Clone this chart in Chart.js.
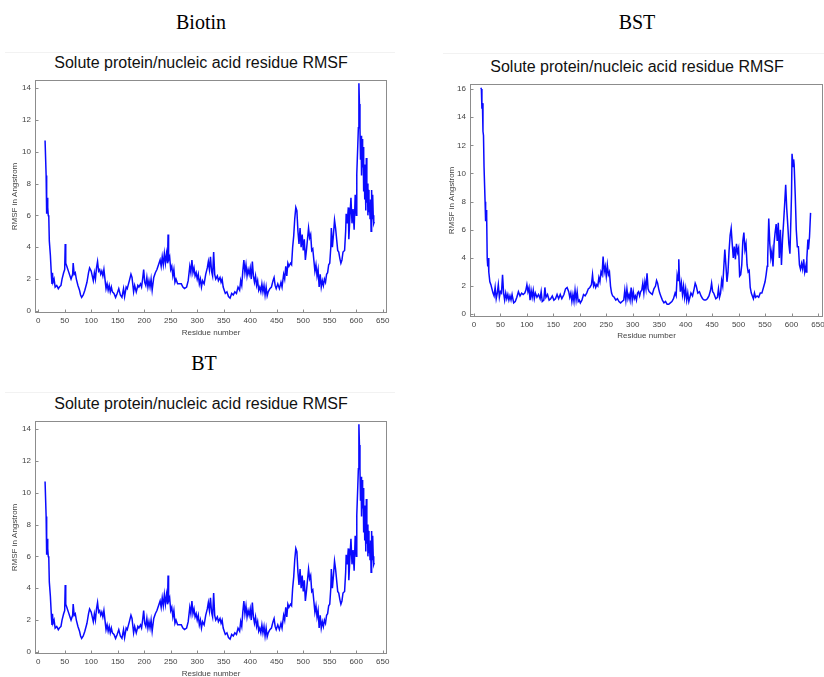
<!DOCTYPE html>
<html>
<head>
<meta charset="utf-8">
<title>Solute protein/nucleic acid residue RMSF</title>
<script src="https://cdn.jsdelivr.net/npm/chart.js@4.4.0/dist/chart.umd.min.js"></script>
<style>
  html, body { margin: 0; padding: 0; background: #fff; overflow: hidden; width: 824px; height: 677px; }
  .panel-name { position: absolute; font-family: "Liberation Serif", "DejaVu Serif", serif; font-size: 20px; color: #000; transform: translate(-50%, -50%); white-space: nowrap; }
  .rule { position: absolute; height: 1px; background: #f2f2f2; }
  .plot-title { position: absolute; font-family: "Liberation Sans", Arial, sans-serif; font-size: 16px; color: #111; transform: translate(-50%, -50%); white-space: nowrap; }
  canvas { position: absolute; }
</style>
</head>
<body>

<div class="panel-name" style="left:201px; top:22px;">Biotin</div>
<div class="rule" style="left:5px; top:52px; width:390px;"></div>
<div class="plot-title" style="left:201px; top:63px;">Solute protein/nucleic acid residue RMSF</div>
<canvas id="biotin-chart" width="400" height="270" style="left:0px; top:70px;"></canvas>

<div class="panel-name" style="left:637px; top:22px;">BST</div>
<div class="rule" style="left:443px; top:53px; width:381px;"></div>
<div class="plot-title" style="left:637px; top:67px;">Solute protein/nucleic acid residue RMSF</div>
<canvas id="bst-chart" width="400" height="269" style="left:440px; top:74px;"></canvas>

<div class="panel-name" style="left:204px; top:363px;">BT</div>
<div class="rule" style="left:5px; top:392px; width:390px;"></div>
<div class="plot-title" style="left:201px; top:404px;">Solute protein/nucleic acid residue RMSF</div>
<canvas id="bt-chart" width="400" height="270" style="left:0px; top:411px;"></canvas>

<script>
// RMSF per residue (Angstrom)
const biotinResidues = [
  13, 15, 16, 17, 18, 19, 20, 21, 23, 25, 26, 27, 28, 30, 32, 35, 38, 40, 43, 45,
  48, 50, 51, 52, 54, 57, 60, 62, 65, 66, 68, 70, 72, 75, 78, 80, 82, 85, 88, 92,
  95, 97, 100, 102, 104, 106, 108, 110, 112, 114, 116, 118, 120, 122, 124, 126, 128, 130, 132, 134,
  136, 138, 140, 143, 146, 149, 152, 155, 158, 161, 163, 166, 168, 172, 175, 177, 180, 182, 185, 188,
  190, 193, 195, 197, 199, 201, 203, 205, 207, 209, 211, 213, 215, 218, 221, 224, 227, 230, 232, 234,
  236, 238, 240, 242, 244, 245, 246, 248, 250, 252, 254, 256, 258, 260, 263, 266, 270, 273, 276, 280,
  283, 286, 288, 290, 292, 294, 296, 298, 300, 302, 304, 306, 308, 310, 313, 316, 319, 321, 323, 325,
  327, 329, 331, 333, 335, 338, 340, 343, 345, 347, 349, 351, 353, 356, 359, 362, 365, 368, 371, 374,
  377, 380, 382, 384, 386, 388, 390, 392, 394, 396, 398, 400, 402, 404, 406, 408, 410, 412, 414, 416,
  418, 420, 422, 424, 426, 428, 430, 432, 434, 437, 440, 443, 445, 447, 449, 452, 455, 458, 460, 463,
  465, 467, 469, 471, 473, 476, 478, 480, 482, 484, 486, 488, 490, 492, 494, 496, 498, 500, 502, 504,
  506, 508, 510, 512, 514, 516, 518, 520, 522, 524, 526, 528, 530, 532, 534, 536, 538, 540, 542, 544,
  546, 548, 550, 552, 553, 555, 557, 559, 561, 563, 565, 567, 569, 571, 573, 575, 578, 580, 581, 583,
  585, 586, 588, 590, 592, 594, 596, 598, 600, 601, 603, 604, 605, 606, 607, 608, 609, 610, 611, 612,
  613, 614, 615, 616, 617, 618, 619, 620, 621, 622, 623, 624, 625, 626, 627, 628, 629, 630, 631, 632,
  633, 634
];
const biotinRmsf = [
  10.7, 8.5, 6.1, 7.1, 6.5, 6.0, 5.9, 4.4, 3.5, 2.2, 1.7, 2.4, 1.8, 2.0, 1.5, 1.6, 1.4, 1.5, 1.6, 2.0,
  2.4, 2.6, 4.2, 3.0, 2.8, 2.5, 2.2, 2.0, 2.3, 3.0, 2.3, 2.4, 2.0, 1.6, 1.3, 1.0, 0.85, 1.0, 1.3, 1.8,
  2.4, 2.7, 2.5, 2.2, 1.9, 2.4, 2.0, 2.7, 3.1, 2.5, 2.6, 2.3, 2.5, 2.2, 2.6, 2.0, 1.4, 1.7, 1.3, 1.6,
  1.2, 1.5, 1.2, 1.1, 0.85, 1.1, 1.4, 1.0, 0.85, 1.4, 0.9, 1.5, 1.4, 1.9, 2.3, 2.1, 1.2, 1.6, 1.2, 1.6,
  1.5, 1.7, 1.5, 2.0, 2.6, 1.8, 1.6, 2.1, 1.5, 1.9, 1.5, 2.0, 1.3, 2.1, 2.4, 2.6, 2.9, 3.2, 2.8, 3.4,
  2.9, 3.6, 3.0, 3.6, 3.0, 4.8, 3.2, 3.4, 2.6, 2.8, 2.2, 2.6, 1.8, 2.0, 1.7, 1.7, 1.7, 1.5, 1.4, 1.5,
  1.9, 2.8, 2.4, 3.2, 2.4, 2.7, 2.2, 2.4, 2.0, 2.3, 1.7, 2.0, 1.5, 1.9, 1.7, 2.3, 2.7, 3.1, 2.6, 3.4,
  2.5, 2.2, 3.7, 2.3, 2.0, 2.2, 1.9, 2.1, 1.8, 2.0, 1.5, 1.3, 1.1, 1.2, 0.9, 0.8, 1.1, 1.0, 1.2, 1.1,
  1.5, 1.3, 1.9, 1.6, 2.5, 3.2, 2.4, 2.9, 2.2, 2.6, 2.3, 2.7, 2.0, 3.1, 2.2, 1.8, 2.2, 1.6, 1.9, 1.3,
  1.5, 1.2, 1.7, 1.2, 1.6, 1.0, 1.5, 0.95, 1.2, 1.4, 1.5, 1.9, 2.1, 1.6, 1.4, 1.7, 1.4, 1.8, 1.5, 2.3,
  2.0, 2.8, 2.2, 3.0, 2.8, 3.0, 2.9, 4.0, 4.7, 5.8, 6.5, 6.3, 5.0, 4.2, 5.2, 4.0, 4.8, 3.8, 4.5, 3.2,
  3.8, 4.5, 5.2, 4.6, 4.8, 3.8, 3.9, 3.2, 2.5, 2.9, 2.2, 2.6, 1.5, 2.3, 1.5, 1.9, 1.6, 2.0, 1.8, 2.3,
  2.4, 2.9, 3.0, 4.0, 5.2, 4.0, 4.8, 5.7, 5.2, 4.5, 3.8, 3.7, 3.3, 3.0, 3.2, 3.7, 3.8, 5.0, 6.1, 5.5,
  6.5, 4.5, 5.9, 7.1, 5.5, 6.4, 5.1, 7.3, 6.0, 8.6, 10.5, 11.5, 14.3, 13.0, 11.5, 9.5, 11.0, 8.5, 10.8, 9.0,
  10.3, 7.5, 9.2, 7.0, 8.5, 6.3, 9.6, 6.8, 8.0, 6.0, 7.6, 6.2, 6.8, 5.8, 7.0, 5.0, 7.6, 5.8, 7.3, 6.0,
  5.5, 5.6
];

const bstResidues = [
  13, 14, 15, 16, 17, 18, 19, 21, 22, 23, 24, 25, 26, 27, 28, 30, 32, 34, 36, 38,
  40, 42, 44, 46, 48, 50, 52, 54, 56, 58, 60, 62, 64, 66, 68, 70, 72, 75, 78, 81,
  84, 87, 90, 93, 96, 98, 100, 102, 104, 106, 108, 110, 112, 114, 116, 119, 122, 125, 127, 129,
  132, 134, 136, 139, 142, 145, 148, 151, 154, 157, 160, 163, 166, 170, 173, 176, 179, 181, 183, 185,
  187, 189, 191, 193, 195, 197, 199, 201, 204, 207, 210, 213, 216, 219, 222, 224, 226, 228, 230, 232,
  234, 236, 238, 240, 242, 244, 246, 248, 250, 252, 254, 256, 258, 260, 262, 265, 268, 271, 274, 277,
  280, 283, 285, 287, 289, 291, 293, 295, 297, 299, 301, 303, 305, 307, 309, 311, 313, 315, 317, 319,
  321, 323, 325, 327, 329, 331, 334, 337, 340, 343, 345, 347, 349, 351, 353, 356, 359, 362, 365, 368,
  371, 374, 377, 380, 382, 384, 386, 387, 388, 390, 392, 394, 396, 398, 400, 402, 404, 406, 408, 410,
  413, 416, 418, 420, 423, 426, 429, 432, 435, 438, 441, 444, 447, 449, 451, 453, 455, 457, 460, 462,
  464, 466, 468, 470, 472, 474, 476, 478, 480, 482, 484, 486, 488, 490, 492, 494, 496, 498, 500, 502,
  504, 506, 508, 510, 512, 514, 516, 518, 520, 522, 524, 526, 528, 530, 532, 535, 538, 541, 544, 547,
  550, 552, 554, 555, 557, 559, 561, 563, 565, 567, 569, 571, 573, 575, 577, 579, 581, 583, 585, 587,
  589, 591, 593, 595, 597, 599, 600, 601, 603, 604, 605, 607, 609, 611, 613, 615, 617, 619, 621, 623,
  625, 627, 628, 629, 631, 632, 634, 636
];
const bstRmsf = [
  16.1, 16.0, 14.6, 15.0, 13.0, 12.7, 10.5, 8.0, 6.6, 7.4, 6.9, 4.0, 3.4, 4.0, 3.0, 2.3, 2.1, 1.8, 1.5, 1.3,
  1.9, 1.1, 1.5, 2.1, 1.2, 1.6, 1.5, 2.8, 1.5, 1.0, 1.5, 1.1, 1.4, 1.0, 1.3, 1.0, 1.4, 0.8, 0.9, 1.2,
  1.6, 1.3, 1.5, 1.4, 1.5, 1.7, 2.1, 1.6, 1.9, 1.0, 1.7, 1.2, 1.7, 1.1, 1.5, 1.2, 1.4, 1.1, 1.6, 0.9,
  1.0, 1.9, 1.2, 1.4, 1.0, 1.1, 1.3, 1.0, 1.1, 1.4, 1.1, 1.4, 1.1, 1.4, 1.8, 1.9, 1.6, 1.2, 1.5, 0.9,
  1.4, 0.9, 1.7, 1.0, 1.6, 0.9, 1.0, 0.8, 1.0, 1.4, 1.3, 1.5, 1.8, 1.9, 2.1, 2.8, 2.0, 2.2, 1.9, 2.1,
  2.0, 2.6, 2.3, 3.0, 2.8, 4.1, 3.0, 3.4, 2.7, 3.5, 2.8, 3.0, 2.0, 1.5, 1.3, 1.2, 1.0, 1.1, 0.9, 0.8,
  0.9, 1.0, 1.7, 1.0, 1.8, 1.1, 1.4, 1.0, 1.9, 1.0, 1.6, 1.1, 1.3, 1.0, 1.5, 1.6, 1.3, 1.6, 1.7, 2.2,
  1.5, 2.3, 1.8, 2.9, 1.8, 1.6, 1.5, 1.4, 1.8, 2.0, 2.4, 2.2, 1.8, 1.5, 1.3, 1.0, 0.8, 0.9, 0.7, 0.7,
  0.8, 0.9, 1.1, 1.5, 1.3, 2.8, 2.4, 3.9, 2.8, 1.6, 2.2, 1.4, 2.0, 1.2, 1.8, 1.0, 1.5, 0.9, 1.2, 1.5,
  1.3, 1.8, 2.2, 2.0, 1.5, 1.6, 1.3, 1.1, 1.0, 1.0, 1.1, 1.3, 1.7, 2.2, 1.6, 1.5, 1.3, 1.1, 1.2, 1.8,
  1.2, 1.5, 2.4, 2.0, 3.3, 4.6, 3.5, 2.3, 3.0, 4.5, 5.6, 6.1, 5.0, 4.0, 4.8, 3.9, 5.0, 4.4, 4.7, 2.7,
  2.8, 3.5, 5.2, 5.8, 4.6, 5.0, 3.5, 3.0, 3.1, 1.9, 1.5, 1.3, 1.1, 1.5, 1.2, 1.3, 1.2, 1.5, 1.5, 1.9,
  2.3, 2.8, 3.4, 4.0, 6.8, 5.0, 4.0, 4.5, 3.4, 5.0, 5.8, 6.4, 5.2, 6.5, 4.0, 6.0, 3.5, 5.3, 6.5, 7.8,
  9.2, 7.5, 6.3, 5.0, 4.3, 7.0, 8.5, 11.4, 10.5, 11.0, 10.6, 8.5, 6.0, 4.8, 4.8, 3.5, 3.2, 3.6, 3.2, 3.9,
  3.0, 3.4, 3.0, 4.0, 5.3, 4.6, 5.5, 7.2
];

// BT run carries the same per-residue values as Biotin
const btResidues = biotinResidues;
const btRmsf = biotinRmsf;

const residueTicks = [0, 50, 100, 150, 200, 250, 300, 350, 400, 450, 500, 550, 600, 650];
const rmsfTicks14 = [0, 2, 4, 6, 8, 10, 12, 14];
const rmsfTicks16 = [0, 2, 4, 6, 8, 10, 12, 14, 16];

const AXIS_FONT = { family: "'Liberation Sans', Arial, sans-serif", size: 8 };

// grey frame around the plot area plus short inward tick marks
const boxFrame = {
  id: 'boxFrame',
  afterDraw(chart) {
    const { ctx, chartArea: a, scales } = chart;
    const l = Math.round(a.left) + 0.5, r = Math.round(a.right) - 0.5;
    const t = Math.round(a.top) + 0.5, b = Math.round(a.bottom) - 0.5;
    ctx.save();
    ctx.strokeStyle = '#8c8c8c';
    ctx.lineWidth = 1;
    ctx.strokeRect(l, t, r - l, b - t);
    ctx.beginPath();
    scales.x.ticks.forEach(tk => {
      const px = Math.round(scales.x.getPixelForValue(tk.value)) + 0.5;
      ctx.moveTo(px, b);
      ctx.lineTo(px, b - 3);
    });
    scales.y.ticks.forEach(tk => {
      const py = Math.round(scales.y.getPixelForValue(tk.value)) + 0.5;
      ctx.moveTo(l, py);
      ctx.lineTo(l + 3, py);
    });
    ctx.stroke();
    ctx.restore();
  }
};

function makeRmsfChart(id, residues, rmsf, opts) {
  const points = residues.map((r, i) => ({ x: r, y: rmsf[i] }));
  return new Chart(document.getElementById(id), {
    type: 'line',
    data: {
      datasets: [{
        data: points,
        borderColor: '#0a0aff',
        borderWidth: 1.5,
        pointRadius: 0,
        tension: 0,
        fill: false
      }]
    },
    options: {
      responsive: false,
      animation: false,
      events: [],
      layout: { padding: opts.padding },
      plugins: { legend: { display: false }, tooltip: { enabled: false }, title: { display: false } },
      scales: {
        x: {
          type: 'linear',
          min: opts.xMin,
          max: opts.xMax,
          afterBuildTicks: s => { s.ticks = residueTicks.map(v => ({ value: v })); },
          afterFit: s => { s.height = opts.xAxisHeight; },
          grid: { display: false, drawTicks: false },
          border: { display: false },
          ticks: { font: AXIS_FONT, color: '#444', padding: 3, maxRotation: 0, autoSkip: false },
          title: { display: true, text: 'Residue number', font: AXIS_FONT, color: '#444', padding: { top: 0, bottom: 2 } }
        },
        y: {
          type: 'linear',
          min: opts.yMin,
          max: opts.yMax,
          afterBuildTicks: s => { s.ticks = opts.yTicks.map(v => ({ value: v })); },
          afterFit: s => { s.width = opts.yAxisWidth; },
          grid: { display: false, drawTicks: false },
          border: { display: false },
          ticks: { font: AXIS_FONT, color: '#444', padding: 4, autoSkip: false },
          title: { display: true, text: 'RMSF in Angstrom', font: AXIS_FONT, color: '#444', padding: { top: opts.yTitlePad, bottom: 0 } }
        }
      }
    },
    plugins: [boxFrame]
  });
}

makeRmsfChart('biotin-chart', biotinResidues, biotinRmsf, {
  xMin: -6, xMax: 658, yMin: -0.13, yMax: 14.5, yTicks: rmsfTicks14,
  padding: { top: 10, left: 5, right: 13, bottom: 0 },
  yAxisWidth: 30, xAxisHeight: 27, yTitlePad: 5
});

makeRmsfChart('bst-chart', bstResidues, bstRmsf, {
  xMin: -7.5, xMax: 659.5, yMin: -0.2, yMax: 16.36, yTicks: rmsfTicks16,
  padding: { top: 10, left: 5, right: 17, bottom: 0 },
  yAxisWidth: 25, xAxisHeight: 26, yTitlePad: 2
});

makeRmsfChart('bt-chart', btResidues, btRmsf, {
  xMin: -6, xMax: 658, yMin: -0.13, yMax: 14.5, yTicks: rmsfTicks14,
  padding: { top: 10, left: 5, right: 13, bottom: 0 },
  yAxisWidth: 30, xAxisHeight: 27, yTitlePad: 5
});
</script>
</body>
</html>
